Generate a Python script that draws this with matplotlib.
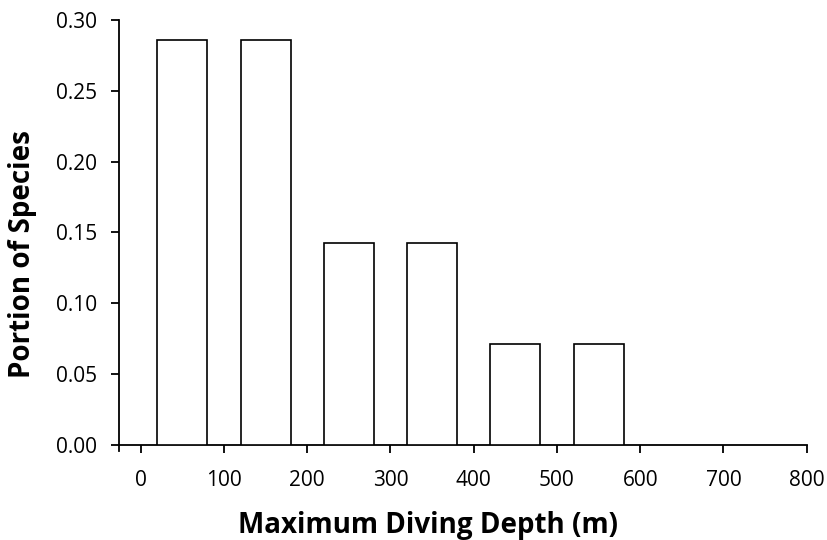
import matplotlib.pyplot as plt
from matplotlib.ticker import MultipleLocator, FormatStrFormatter

# Данные
depth_center = [50, 150, 250, 350, 450, 550]
portion = [0.2857, 0.2857, 0.1429, 0.1429, 0.0714, 0.0714]
bar_width = 60

plt.rcParams['font.family'] = ['Open Sans', 'DejaVu Sans']

fig = plt.figure(figsize=(8.27, 5.40), dpi=100)
ax = fig.add_axes([0.1439, 0.176, 0.8316, 0.787])

ax.bar(depth_center, portion, width=bar_width, color='white',
       edgecolor='black', linewidth=1.2, zorder=3)

ax.set_xlim(-26, 800)
ax.set_ylim(0, 0.30)
ax.xaxis.set_major_locator(MultipleLocator(100))
ax.yaxis.set_major_locator(MultipleLocator(0.05))
ax.yaxis.set_major_formatter(FormatStrFormatter('%.2f'))

for spine in ['top', 'right']:
    ax.spines[spine].set_visible(False)
for spine in ['left', 'bottom']:
    ax.spines[spine].set_linewidth(1.3)
# левая ось чуть ниже нуля, как в оригинале
ax.spines['left'].set_bounds(-0.0045, 0.30)

ax.tick_params(axis='both', which='major', direction='out', length=6,
               width=1.3, labelsize=15, pad=10)
ax.tick_params(axis='x', pad=12)

# Подписи осей (смещены влево/вниз, как в оригинале)
ax.set_xlabel('Maximum Diving Depth (m)', fontsize=20, fontweight='bold',
              va='baseline', ha='center')
ax.xaxis.set_label_coords(0.449, -0.207)
ax.set_ylabel('Portion of Species', fontsize=20, fontweight='bold',
              va='center', ha='center')
ax.yaxis.set_label_coords(-0.141, 0.449)

plt.savefig('out.png', dpi=100)
